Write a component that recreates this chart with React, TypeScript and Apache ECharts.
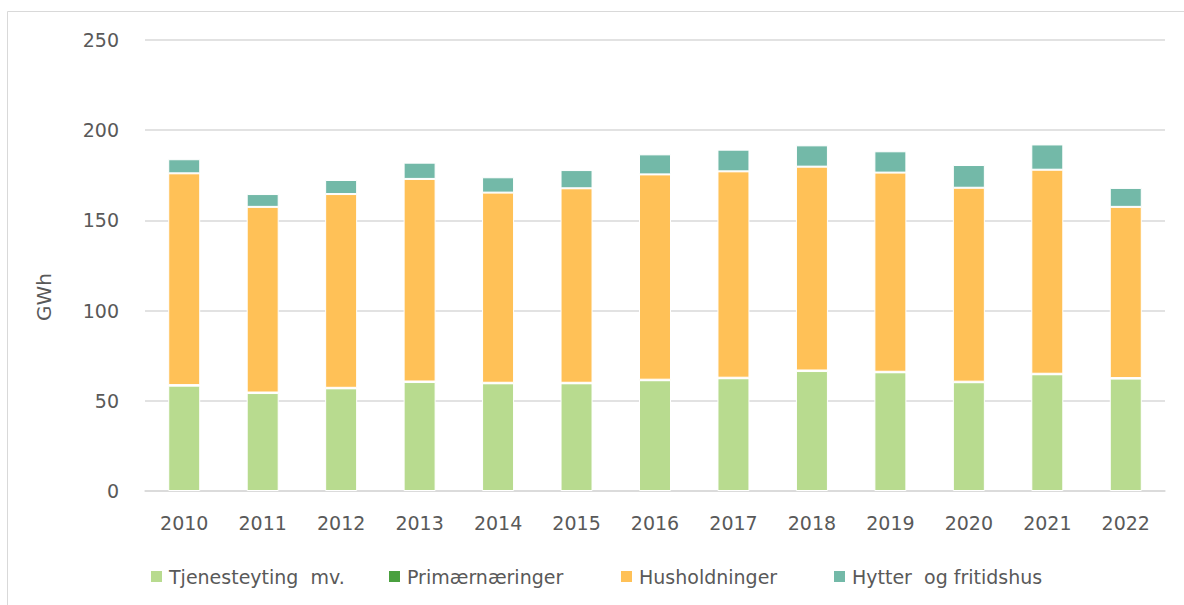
import React, { useEffect, useRef } from "react";
import * as echarts from "echarts";

const years = ["2010", "2011", "2012", "2013", "2014", "2015", "2016", "2017", "2018", "2019", "2020", "2021", "2022"];
const tjenesteyting = [58.4, 54.3, 56.9, 60.4, 59.7, 59.7, 61.4, 62.5, 66.5, 65.8, 60.3, 64.7, 62.3];
const primaer = [0.3, 0.3, 0.3, 0.3, 0.3, 0.3, 0.3, 0.3, 0.3, 0.3, 0.3, 0.3, 0.3];
const husholdninger = [117.4, 102.9, 107.4, 112.3, 105.4, 107.8, 113.8, 114.4, 113.0, 110.4, 107.5, 113.1, 94.9];
const hytter = [7.8, 7.1, 7.8, 9.0, 8.5, 10.1, 11.1, 12.0, 11.8, 11.8, 12.6, 14.0, 10.5];
const yTicks = [0, 50, 100, 150, 200, 250];
const seriesNames = ["Tjenesteyting  mv.", "Primærnæringer", "Husholdninger", "Hytter  og fritidshus"];

const FONT = "'DejaVu Sans', sans-serif";
const TEXT = "#595959";

export default function App() {
  const ref = useRef<HTMLDivElement>(null);
  useEffect(() => {
    if (!ref.current) return;
    const chart = echarts.init(ref.current, null, { renderer: "svg" });
    const mk = (name: string, data: number[], color: string) => ({
      name,
      type: "bar",
      stack: "total",
      data,
      barWidth: 32,
      itemStyle: { color, borderColor: "#ffffff", borderWidth: 1 },
    });
    const legendLefts = [149, 387, 619, 832];
    chart.setOption({
      animation: false,
      backgroundColor: "#ffffff",
      textStyle: { fontFamily: FONT },
      grid: { left: 145, right: 19, top: 40, bottom: 114 },
      graphic: [
        {
          type: "rect",
          shape: { x: 7.5, y: 11.5, width: 1200, height: 620 },
          style: { fill: "none", stroke: "#d9d9d9", lineWidth: 1 },
          silent: true,
        },
        {
          type: "text",
          x: 44,
          y: 297,
          rotation: Math.PI / 2,
          style: {
            text: "GWh",
            fill: TEXT,
            font: `20px ${FONT}`,
            align: "center",
            verticalAlign: "middle",
          },
        },
      ],
      legend: seriesNames.map((n, i) => ({
        top: 567,
        left: legendLefts[i],
        itemWidth: 13,
        itemHeight: 13,
        itemGap: 0,
        icon: "rect",
        padding: 0,
        textStyle: { color: TEXT, fontSize: 19, fontFamily: FONT, padding: [0, 0, 0, 1] },
        data: [n],
      })),
      xAxis: {
        type: "category",
        data: years,
        axisLine: { lineStyle: { color: "#d9d9d9", width: 1.5 } },
        axisTick: { show: false },
        axisLabel: { color: TEXT, fontSize: 19, margin: 22, fontFamily: FONT },
      },
      yAxis: {
        type: "value",
        min: yTicks[0],
        max: yTicks[yTicks.length - 1],
        interval: 50,
        axisLine: { show: false },
        axisTick: { show: false },
        axisLabel: { color: TEXT, fontSize: 19, margin: 26, fontFamily: FONT },
        splitLine: { lineStyle: { color: "#d9d9d9", width: 1.5 } },
      },
      series: [
        mk(seriesNames[0], tjenesteyting, "#b8db8f"),
        mk(seriesNames[1], primaer, "#4aa03f"),
        mk(seriesNames[2], husholdninger, "#ffc157"),
        mk(seriesNames[3], hytter, "#73b9a8"),
      ],
    });
    return () => chart.dispose();
  }, []);
  return (
    <div
      ref={ref}
      style={{ position: "fixed", left: 0, top: 0, width: 1184, height: 605 }}
    />
  );
}
